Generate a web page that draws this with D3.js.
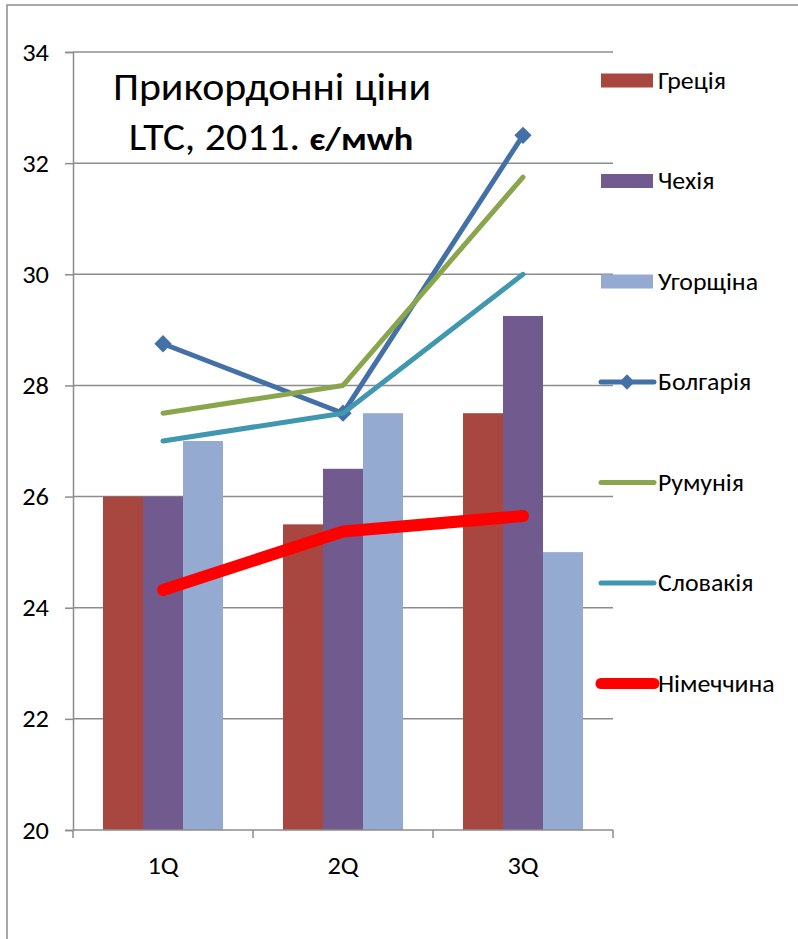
<!DOCTYPE html>
<html><head><meta charset="utf-8">
<script src="https://cdn.jsdelivr.net/npm/d3@7"></script>
<style>
html,body{margin:0;padding:0;background:#fff;}
svg{display:block;font-family:Calibri,Carlito,"Open Sans",sans-serif;}
</style></head>
<body>
<svg id="c" width="798" height="939"></svg>
<script>
const categories = ["1Q", "2Q", "3Q"];
const barSeries = ["Греція", "Чехія", "Угорщіна"];
const greece = [26, 25.5, 27.5];
const czechia = [26, 26.5, 29.25];
const hungary = [27, 27.5, 25];
const lineSeries = ["Болгарія", "Румунія", "Словакія", "Німеччина"];
const bulgaria = [28.75, 27.5, 32.5];
const romania = [27.5, 28, 31.75];
const slovakia = [27, 27.5, 30];
const germany = [24.32, 25.37, 25.65];
const yTicks = [20, 22, 24, 26, 28, 30, 32, 34];
const titleLine1 = "Прикордонні ціни";
const titleLine2a = "LTC, 2011. ";
const titleLine2b = "є/мwh";

const barColors = ["#A8473F", "#715A8D", "#95AAD1"];
const lineColors = ["#4470A8", "#8AA64C", "#3F97B0", "#FF0000"];
const lineWidths = [5, 5, 5, 12];
const SX = 1.1; // horizontal text stretch

const svg = d3.select("#c");
svg.append("rect").attr("x", 7).attr("y", 5).attr("width", 820).attr("height", 960)
  .attr("fill", "none").attr("stroke", "#8c8c8c").attr("stroke-width", 1.5);

const plot = {left: 73, right: 613, top: 52, bottom: 830};
const x = d3.scaleBand().domain(categories).range([plot.left, plot.right]).padding(0);
const xb = d3.scaleBand().domain(barSeries).range([0, x.bandwidth()]).paddingInner(0).paddingOuter(0.75);
const y = d3.scaleLinear().domain([20, 34]).range([plot.bottom, plot.top]);

function stext(parent, tx, ty, str, size, anchor) {
  return parent.append("text")
    .attr("transform", `translate(${tx},${ty}) scale(${SX},1)`)
    .attr("text-anchor", anchor || "start")
    .attr("font-size", size).attr("fill", "#000").text(str);
}

// gridlines
svg.append("g").selectAll("line").data(yTicks.filter(t => t > 20)).join("line")
  .attr("x1", plot.left).attr("x2", plot.right)
  .attr("y1", d => y(d)).attr("y2", d => y(d))
  .attr("stroke", "#8c8c8c").attr("stroke-width", 1.5);

// y axis
const yAxis = svg.append("g").attr("transform", `translate(${plot.left},0)`)
  .call(d3.axisLeft(y).tickValues(yTicks).tickSize(8).tickPadding(16).tickFormat(d3.format("d")));
yAxis.select(".domain").attr("stroke", "#8c8c8c").attr("stroke-width", 1.5);
yAxis.selectAll(".tick line").attr("stroke", "#8c8c8c").attr("stroke-width", 1.5);
yAxis.selectAll(".tick text").attr("font-size", 24).attr("fill", "#000")
  .attr("font-family", "Calibri,Carlito,'Open Sans',sans-serif")
  .attr("x", null).attr("dy", null)
  .attr("transform", `translate(-24,8) scale(${SX},1)`);

// bars
const barData = [greece, czechia, hungary];
barSeries.forEach((s, si) => {
  svg.append("g").selectAll("rect").data(barData[si]).join("rect")
    .attr("x", (d, i) => x(categories[i]) + xb(s))
    .attr("width", xb.bandwidth())
    .attr("y", d => y(d))
    .attr("height", d => y(20) - y(d))
    .attr("fill", barColors[si]);
});

// x axis
const xAxisG = svg.append("g").attr("transform", `translate(0,${plot.bottom})`);
xAxisG.append("line").attr("x1", plot.left).attr("x2", plot.right).attr("y1", 0).attr("y2", 0)
  .attr("stroke", "#8c8c8c").attr("stroke-width", 1.5);
const xTickPos = categories.map(c => x(c)).concat([x(categories[categories.length - 1]) + x.bandwidth()]);
xAxisG.selectAll("line.t").data(xTickPos).join("line").attr("class", "t")
  .attr("x1", d => d).attr("x2", d => d).attr("y1", 0).attr("y2", 8)
  .attr("stroke", "#8c8c8c").attr("stroke-width", 1.5);
categories.forEach(c => stext(xAxisG, x(c) + x.bandwidth() / 2, 44, c, 24, "middle"));

// lines
const lineData = [bulgaria, romania, slovakia, germany];
const lineGen = d3.line().x((d, i) => x(categories[i]) + x.bandwidth() / 2).y(d => y(d));
lineSeries.forEach((s, si) => {
  svg.append("path").datum(lineData[si]).attr("d", lineGen)
    .attr("fill", "none").attr("stroke", lineColors[si]).attr("stroke-width", lineWidths[si])
    .attr("stroke-linecap", "round").attr("stroke-linejoin", "round");
  if (si === 0) {
    svg.append("g").selectAll("path").data(lineData[si]).join("path")
      .attr("d", d3.symbol(d3.symbolDiamond2, 190))
      .attr("transform", (d, i) => `translate(${x(categories[i]) + x.bandwidth() / 2},${y(d)})`)
      .attr("fill", lineColors[0]);
  }
});

// legend
const legendItems = barSeries.map((s, i) => ({name: s, type: "bar", color: barColors[i]}))
  .concat(lineSeries.map((s, i) => ({name: s, type: "line", color: lineColors[i], w: lineWidths[i], marker: i === 0})));
const lg = svg.append("g");
legendItems.forEach((it, i) => {
  const cy = 80.5 + i * 100.5;
  const g = lg.append("g").attr("transform", `translate(0,${cy})`);
  if (it.type === "bar") {
    g.append("rect").attr("x", 601).attr("y", -7).attr("width", 52).attr("height", 14).attr("fill", it.color);
  } else {
    const w = it.w === 12 ? 11 : 5;
    g.append("line").attr("x1", 601).attr("x2", 654).attr("y1", 0).attr("y2", 0)
      .attr("stroke", it.color).attr("stroke-width", w).attr("stroke-linecap", "round");
    if (it.marker) {
      g.append("path").attr("d", d3.symbol(d3.symbolDiamond2, 150)).attr("transform", "translate(627,0)")
        .attr("fill", it.color);
    }
  }
  stext(g, 658, 8, it.name, 23.5, "start");
});

// title
const title = svg.append("g");
stext(title, 272, 100, titleLine1, 38, "middle");
const t2 = stext(title, 271, 150, "", 38, "middle");
t2.append("tspan").text(titleLine2a);
t2.append("tspan").attr("font-weight", "bold").attr("font-size", 33).text(titleLine2b);
</script>
</body></html>
